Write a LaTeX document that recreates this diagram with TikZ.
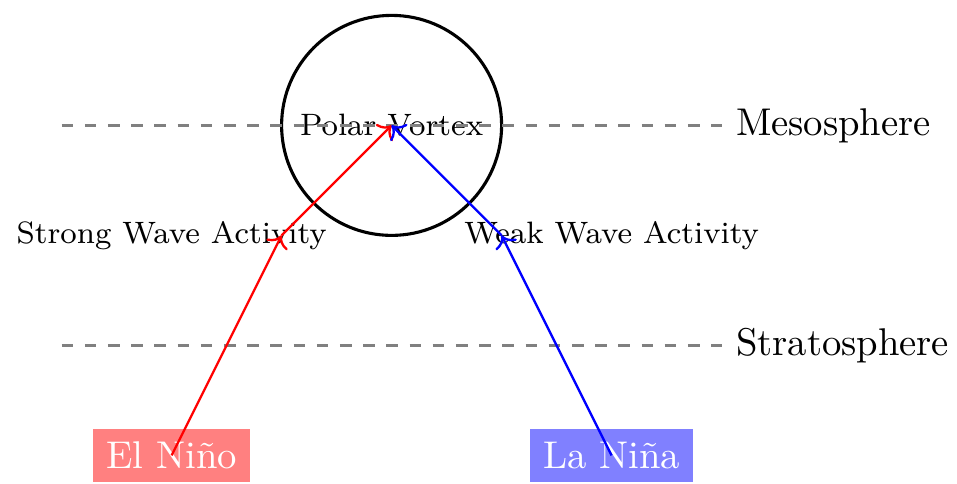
\documentclass[tikz,border=0pt]{standalone}
\usetikzlibrary{arrows.meta, positioning, calc}
\usepackage{amssymb,amsmath}

\begin{document}
\begin{tikzpicture}[
	layerline/.style={dashed, thick, gray},
	layerlabel/.style={right, text=black},
	ensobox/.style={rectangle, text=white, minimum height=0.47cm, align=center},
	waveredarrow/.style={->, semithick, red},
	waveblue/.style={->, semithick, blue},
	every node/.style={align=center}
	]
	\useasboundingbox (-3.56,-3.26) rectangle (5.14,1.14);
	\node[circle, draw, thick, minimum size=2cm] (vortex-ring) at (0,0) {};
	\node[font=\footnotesize] (vortex) at (0,0) {Polar Vortex};
	
	\coordinate (meso-l) at (-3,0);
	\coordinate (meso-r) at (3,0);
	\coordinate (strato-l) at (-3,-2);
	\coordinate (strato-r) at (3,-2);
	\draw[layerline] (meso-l) -- (meso-r) node[layerlabel] (meso) {Mesosphere};
	\draw[layerline] (strato-l) -- (strato-r) node[layerlabel] (strato) {Stratosphere};
	
	\node[ensobox, fill=red!50] (elnino) at (-2,-3) {El Ni\~no};
	\node[ensobox, fill=blue!50] (lanina) at (2,-3) {La Ni\~na};
	
	\coordinate (strong-mid) at (-1,-1);
	\coordinate (weak-mid) at (1,-1);
	\node[font=\footnotesize] (strong) at (-2,-1) {Strong Wave Activity};
	\node[font=\footnotesize] (weak) at (2,-1) {Weak Wave Activity};
	
	\draw[waveredarrow] (elnino.center) -- (strong-mid);
	\draw[waveredarrow] (strong-mid) -- (vortex.center);
	\draw[waveblue] (lanina.center) -- (weak-mid);
	\draw[waveblue] (weak-mid) -- (vortex.center);
\end{tikzpicture}
\end{document}
